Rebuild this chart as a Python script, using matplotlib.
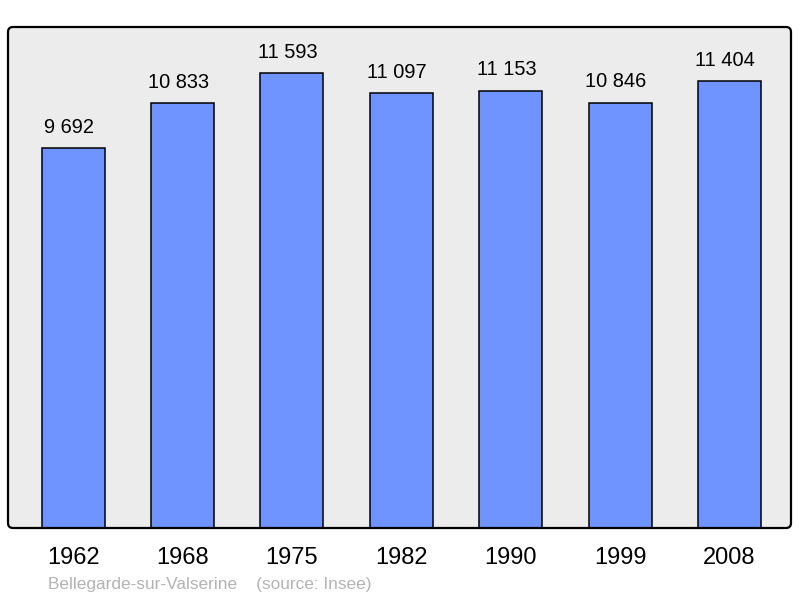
import matplotlib
matplotlib.use("Agg")
import matplotlib.pyplot as plt
from matplotlib.patches import FancyBboxPatch
from matplotlib.transforms import IdentityTransform

annees = ["1962", "1968", "1975", "1982", "1990", "1999", "2008"]
population = [9692, 10833, 11593, 11097, 11153, 10846, 11404]
etiquettes = [f"{v:,}".replace(",", " ") for v in population]

plt.rcParams["font.family"] = ["Liberation Sans", "DejaVu Sans"]

fig = plt.figure(figsize=(8, 5.98), dpi=100)
ax = fig.add_axes([8 / 800, 70 / 598, 783 / 800, 501 / 598])
ax.patch.set_visible(False)
for s in ax.spines.values():
    s.set_visible(False)

# fond gris avec coins arrondis
fond = FancyBboxPatch((8, 70), 783, 501, boxstyle="round,pad=0,rounding_size=5",
                      transform=IdentityTransform(), facecolor="#ececec",
                      edgecolor="none", zorder=0, clip_on=False)
ax.add_patch(fond)

x = range(len(annees))
ax.bar(x, population, width=0.576, color="#7094ff", edgecolor="black",
       linewidth=1.1, zorder=2)

for i, (v, t) in enumerate(zip(population, etiquettes)):
    ax.annotate(t, (i, v), xytext=(-3, 11), textcoords="offset points",
                ha="center", va="baseline", fontsize=14.4)

ax.set_xlim(-0.595, 6.563)
ax.set_ylim(0, 12777)
ax.set_yticks([])
ax.set_xticks(list(x))
ax.set_xticklabels(annees, fontsize=17)
ax.tick_params(axis="x", length=0, pad=13.5)

# cadre noir par-dessus
cadre = FancyBboxPatch((8, 70), 783, 501, boxstyle="round,pad=0,rounding_size=5",
                       transform=IdentityTransform(), facecolor="none",
                       edgecolor="black", linewidth=1.6, zorder=5, clip_on=False)
ax.add_patch(cadre)

fig.text(48 / 800, 1 - 585 / 598, "Bellegarde-sur-Valserine    (source: Insee)",
         fontsize=12.4, color="#b3b3b3", va="center", ha="left")

fig.savefig("out.png", dpi=100)
